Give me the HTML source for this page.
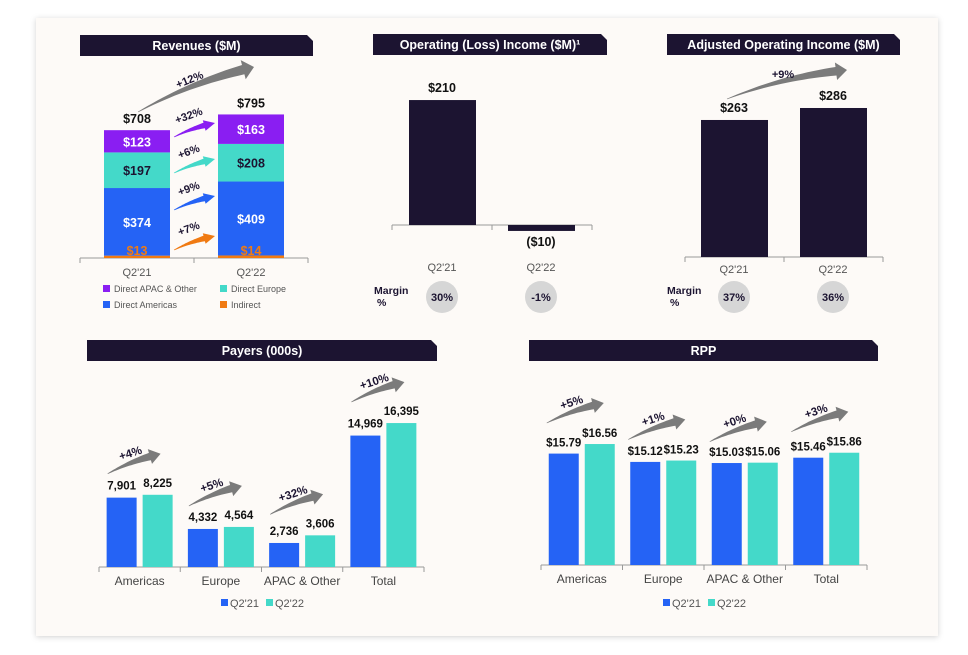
<!DOCTYPE html>
<html><head><meta charset="utf-8"><style>
body{margin:0;background:#fff;}
svg{display:block;font-family:"Liberation Sans",sans-serif;}
</style></head><body>
<svg id="s" width="968" height="655" viewBox="0 0 968 655">
<defs><filter id="sh" x="-5%" y="-5%" width="110%" height="110%"><feDropShadow dx="0" dy="1" stdDeviation="3" flood-color="#000" flood-opacity="0.18"/></filter></defs>
<rect x="36" y="18" width="902" height="618" fill="#fdfaf7" filter="url(#sh)"/>
<g id="g"></g>
</svg>
<script>
// ---- data ----
const revCats=["Q2'21","Q2'22"];
const revIndirect=[13,14];
const revAmericas=[374,409];
const revEurope=[197,208];
const revApac=[123,163];
const revTotals=[708,795];
const revGrowth=["+7%","+9%","+6%","+32%"];
const revTotalGrowth="+12%";
const opCats=["Q2'21","Q2'22"];
const opValues=[210,-10];
const opLabels=["$210","($10)"];
const opMargins=["30%","-1%"];
const adjCats=["Q2'21","Q2'22"];
const adjValues=[263,286];
const adjMargins=["37%","36%"];
const adjGrowth="+9%";
const payCats=["Americas","Europe","APAC & Other","Total"];
const payQ21=[7901,4332,2736,14969];
const payQ22=[8225,4564,3606,16395];
const payGrowth=["+4%","+5%","+32%","+10%"];
const rppCats=["Americas","Europe","APAC & Other","Total"];
const rppQ21=[15.79,15.12,15.03,15.46];
const rppQ22=[16.56,15.23,15.06,15.86];
const rppGrowth=["+5%","+1%","+0%","+3%"];

const NAVY="#1c1431",BLUE="#2563f5",TEAL="#44d9c9",PURP="#8a1ef2",ORNG="#f07a12",GRAY="#7b7b7b";
const g=document.getElementById('g');
const NS="http://www.w3.org/2000/svg";
function el(tag,attrs,parent){const e=document.createElementNS(NS,tag);for(const k in attrs)e.setAttribute(k,attrs[k]);(parent||g).appendChild(e);return e;}
function txt(x,y,s,opt){const e=el('text',{x:x,y:y,'text-anchor':opt.a||'middle','font-size':opt.fs||12,'font-weight':opt.fw||'normal',fill:opt.c||'#333'});if(opt.rot)e.setAttribute('transform','rotate('+opt.rot+' '+x+' '+y+')');e.textContent=s;return e;}
function header(x,y,w,s,name){
  const p=el('path',{d:`M${x},${y} H${x+w-6} L${x+w},${y+6} V${y+21} H${x} Z`,fill:NAVY});
  
  
  const t=txt(x+w/2,y+15,s,{fs:12.5,fw:'bold',c:'#fff'});
  
  
}
function arrow(x1,y1,x2,y2,color,w,name){
  const mx=(x1+x2)/2,my=(y1+y2)/2,dx=x2-x1,dy=y2-y1,L=Math.hypot(dx,dy);
  const nx=dy/L,ny=-dx/L; const bend=L*0.07;
  const cx=mx+nx*bend,cy=my+ny*bend;
  const N=20,hl=Math.min(11,L*0.3);
  const te=1-hl/L;
  const P=t=>[(1-t)*(1-t)*x1+2*(1-t)*t*cx+t*t*x2,(1-t)*(1-t)*y1+2*(1-t)*t*cy+t*t*y2];
  const D=t=>{const a=2*(1-t)*(cx-x1)+2*t*(x2-cx),b=2*(1-t)*(cy-y1)+2*t*(y2-cy),l=Math.hypot(a,b);return [-b/l,a/l];};
  const up=[],dn=[];
  for(let i=0;i<=N;i++){const t=te*i/N;const p=P(t),d=D(t),hw=0.3+w/2*(i/N);up.push([p[0]+d[0]*hw,p[1]+d[1]*hw]);dn.push([p[0]-d[0]*hw,p[1]-d[1]*hw]);}
  const pb=P(te),db=D(te),hw=w*1.1;
  const poly=up.concat([[pb[0]+db[0]*hw,pb[1]+db[1]*hw],[x2,y2],[pb[0]-db[0]*hw,pb[1]-db[1]*hw]]).concat(dn.reverse());
  const e=el('polygon',{points:poly.map(p=>p[0].toFixed(1)+','+p[1].toFixed(1)).join(' '),fill:color});
  
  
}
function axis(x0,x1,y,n,name){
  const a=el('line',{x1:x0,x2:x1,y1:y,y2:y,stroke:'#999','stroke-width':1});
  
  
  for(let i=0;i<=n;i++){const x=x0+(x1-x0)*i/n;el('line',{x1:x,x2:x,y1:y,y2:y+5,stroke:'#999','stroke-width':1});}
}
function rect(x,y,w,h,f,name){const r=el('rect',{x:x,y:y,width:w,height:Math.max(h,0),fill:f});return r;}

// ---- Revenues ----
header(80,35,233,"Revenues ($M)","revenues-header");
const rBase=258,rK=0.1808;const rY=v=>rBase-v*rK;
const rX=[104,218],rW=66;
axis(80,308,rBase,2,'revenues-axis');
revCats.forEach((c,i)=>{
  let acc=0;const x=rX[i];
  const segs=[[revIndirect[i],ORNG,'indirect'],[revAmericas[i],BLUE,'americas'],[revEurope[i],TEAL,'europe'],[revApac[i],PURP,'apac']];
  segs.forEach(([v,col,n])=>{rect(x,rY(acc+v),rW,v*rK,col,'rev-'+n+'-'+i);acc+=v;});
  let a=0;
  txt(x+rW/2,rBase-3,'$'+revIndirect[i],{fs:12.5,fw:'bold',c:ORNG});a+=revIndirect[i];
  txt(x+rW/2,rY(a+revAmericas[i]/2)+5,'$'+revAmericas[i],{fs:12.5,fw:'bold',c:'#fff'});a+=revAmericas[i];
  txt(x+rW/2,rY(a+revEurope[i]/2)+5,'$'+revEurope[i],{fs:12.5,fw:'bold',c:NAVY});a+=revEurope[i];
  txt(x+rW/2,rY(a+revApac[i]/2)+5,'$'+revApac[i],{fs:12.5,fw:'bold',c:'#fff'});
  txt(x+rW/2,rY(revTotals[i])-7,'$'+revTotals[i],{fs:12.5,fw:'bold',c:'#111'});
  txt(x+rW/2,276,c,{fs:11,c:'#555'});
});
const rgCols=[ORNG,BLUE,TEAL,PURP],rgY=[244,204,167,131];
revGrowth.forEach((s,i)=>{arrow(174,rgY[i]+6,215,rgY[i]-8,rgCols[i],5,'rev-growth-arrow-'+i);txt(190,rgY[i]-12,s,{fs:11,fw:'bold',c:NAVY,rot:-20});});
arrow(138,112,254,67,GRAY,9,'rev-total-arrow');txt(191,83,revTotalGrowth,{fs:11,fw:'bold',c:NAVY,rot:-22});
[["Direct APAC & Other",PURP,103,289],["Direct Europe",TEAL,220,289],["Direct Americas",BLUE,103,305],["Indirect",ORNG,220,305]].forEach((l,i)=>{
  rect(l[2],l[3]-4,7,7,l[1],'rev-legend-swatch-'+i);txt(l[2]+11,l[3]+3,l[0],{fs:9,a:'start',c:'#555'});
});

// ---- Operating income ----
header(373,34,234,"Operating (Loss) Income ($M)\u00B9","operating-income-header");
const oBase=225,oK=0.595;
axis(392,592,oBase,2,'op-axis');
const oX=[409,508];
opValues.forEach((v,i)=>{
  const h=Math.abs(v)*oK;rect(oX[i],v>=0?oBase-h:oBase,67,h,NAVY,'op-bar-'+i);
  txt(oX[i]+33,v>=0?oBase-h-8:oBase+h+15,opLabels[i],{fs:12.5,fw:'bold',c:'#111'});
  txt(oX[i]+33,271,opCats[i],{fs:11,c:'#555'});
  el('circle',{cx:oX[i]+33,cy:297,r:16,fill:'#d6d6d6'});
  txt(oX[i]+33,301,opMargins[i],{fs:11,fw:'bold',c:NAVY});
});
txt(374,294,"Margin",{fs:10.5,fw:'bold',a:'start',c:NAVY});txt(377,306,"%",{fs:10.5,fw:'bold',a:'start',c:NAVY});

// ---- Adjusted ----
header(667,34,233,"Adjusted Operating Income ($M)","adjusted-income-header");
const aBase=257,aK=0.521;
axis(685,883,aBase,2,'adj-axis');
const aX=[701,800];
adjValues.forEach((v,i)=>{
  rect(aX[i],aBase-v*aK,67,v*aK,NAVY,'adj-bar-'+i);
  txt(aX[i]+33,aBase-v*aK-8,'$'+v,{fs:12.5,fw:'bold',c:'#111'});
  txt(aX[i]+33,273,adjCats[i],{fs:11,c:'#555'});
  el('circle',{cx:aX[i]+33,cy:297,r:16,fill:'#d6d6d6'});
  txt(aX[i]+33,301,adjMargins[i],{fs:11,fw:'bold',c:NAVY});
});
arrow(727,99,847,70,GRAY,8,'adj-growth-arrow');txt(783,78,adjGrowth,{fs:11,fw:'bold',c:NAVY});
txt(667,294,"Margin",{fs:10.5,fw:'bold',a:'start',c:NAVY});txt(670,306,"%",{fs:10.5,fw:'bold',a:'start',c:NAVY});

// ---- Payers ----
header(87,340,350,"Payers (000s)","payers-header");
const pBase=567,pK=0.00878,pX0=99,pGW=81.25;
axis(pX0,pX0+pGW*4,pBase,4,'payers-axis');
payCats.forEach((c,i)=>{
  const cx=pX0+pGW*(i+0.5);
  const h1=payQ21[i]*pK,h2=payQ22[i]*pK;
  rect(cx-33,pBase-h1,30,h1,BLUE,'payers-q21-'+i);
  rect(cx+3,pBase-h2,30,h2,TEAL,'payers-q22-'+i);
  txt(cx-18,pBase-h1-8,payQ21[i].toLocaleString('en-US'),{fs:11.5,fw:'bold',c:'#111'});
  txt(cx+18,pBase-h2-8,payQ22[i].toLocaleString('en-US'),{fs:11.5,fw:'bold',c:'#111'});
  txt(cx,585,c,{fs:12,c:'#444'});
  const top=pBase-Math.max(h1,h2)-26;
  arrow(cx-32,top+5,cx+21,top-15,GRAY,7,'payers-growth-arrow-'+i);
  txt(cx-8,top-12,payGrowth[i],{fs:11.5,fw:'bold',c:NAVY,rot:-18});
});
rect(221,599,7,7,BLUE,'payers-legend-q21');txt(230,607,"Q2'21",{fs:11,a:'start',c:'#555'});
rect(266,599,7,7,TEAL,'payers-legend-q22');txt(275,607,"Q2'22",{fs:11,a:'start',c:'#555'});

// ---- RPP ----
header(529,340,349,"RPP","rpp-header");
const qBase=565,qK=12.42,qMin=6.82,qX0=541,qGW=81.5;
axis(qX0,qX0+qGW*4,qBase,4,'rpp-axis');
rppCats.forEach((c,i)=>{
  const cx=qX0+qGW*(i+0.5);
  const h1=(rppQ21[i]-qMin)*qK,h2=(rppQ22[i]-qMin)*qK;
  rect(cx-33,qBase-h1,30,h1,BLUE,'rpp-q21-'+i);
  rect(cx+3,qBase-h2,30,h2,TEAL,'rpp-q22-'+i);
  txt(cx-18,qBase-h1-7,'$'+rppQ21[i].toFixed(2),{fs:11.5,fw:'bold',c:'#111'});
  txt(cx+18,qBase-h2-7,'$'+rppQ22[i].toFixed(2),{fs:11.5,fw:'bold',c:'#111'});
  txt(cx,583,c,{fs:12,c:'#444'});
  const top=qBase-Math.max(h1,h2)-26;
  arrow(cx-35,top+5,cx+22,top-15,GRAY,7,'rpp-growth-arrow-'+i);
  txt(cx-9,top-12,rppGrowth[i],{fs:11.5,fw:'bold',c:NAVY,rot:-18});
});
rect(663,599,7,7,BLUE,'rpp-legend-q21');txt(672,607,"Q2'21",{fs:11,a:'start',c:'#555'});
rect(708,599,7,7,TEAL,'rpp-legend-q22');txt(717,607,"Q2'22",{fs:11,a:'start',c:'#555'});
</script>
</body></html>
